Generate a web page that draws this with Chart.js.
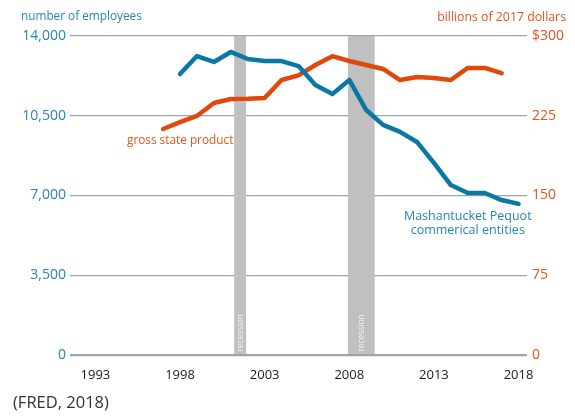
<!DOCTYPE html>
<html>
<head>
<meta charset="utf-8">
<script src="https://cdn.jsdelivr.net/npm/chart.js@4"></script>
<style>
  html, body { margin: 0; padding: 0; background: #fff; }
  #wrap { position: relative; width: 575px; height: 416px; font-family: "Open Sans", sans-serif; }
  canvas { position: absolute; left: 0; top: 0; }
  .lbl { position: absolute; white-space: nowrap; line-height: 1; }
</style>
</head>
<body>
<div id="wrap">
  <canvas id="c" width="575" height="416"></canvas>
  <div class="lbl" style="left:21px; top:10px; font-size:11.8px; color:#2585b6;">number of employees</div>
  <div class="lbl" style="right:9px; top:11px; font-size:12.3px; color:#e4531b;">billions of 2017 dollars</div>
  <div class="lbl" style="left:13px; top:394px; font-size:16.5px; color:#333;">(FRED, 2018)</div>
</div>
<script>
const years = [1997,1998,1999,2000,2001,2002,2003,2004,2005,2006,2007,2008,2009,2010,2011,2012,2013,2014,2015,2016,2017,2018];
const employees = [null,12330,13120,12860,13300,12990,12900,12900,12680,11850,11450,12070,10750,10100,9790,9350,8430,7460,7110,7110,6800,6630];
const grossStateProduct = [212.5,219,224.8,237,240.8,241,241.7,258.6,263,272.7,281,276.5,272.7,269,258.6,261.5,260.5,258.6,270,270,265,null];
const xTicks = [1993,1998,2003,2008,2013,2018];
const leftTicks = [0,3500,7000,10500,14000];
const rightTicks = [0,75,150,225,300];
const recessionStart = [2001.2, 2007.92];
const recessionEnd = [2001.9, 2009.5];

const BLUE = '#0b77a5';
const ORANGE = '#e0480c';
const BLUE_TXT = '#2585b6';
const ORANGE_TXT = '#e4531b';
const GRID = '#9ca6a9';

const recessionPlugin = {
  id: 'recession',
  beforeDatasetsDraw(chart) {
    const {ctx, chartArea, scales} = chart;
    ctx.save();
    for (let i = 0; i < recessionStart.length; i++) {
      const x0 = scales.x.getPixelForValue(recessionStart[i]);
      const x1 = scales.x.getPixelForValue(recessionEnd[i]);
      ctx.fillStyle = '#c0c0c0';
      ctx.fillRect(x0, chartArea.top, x1 - x0, chartArea.bottom - chartArea.top - 1);
      ctx.save();
      ctx.translate((x0 + x1) / 2, chartArea.bottom - 22);
      ctx.rotate(-Math.PI / 2);
      ctx.fillStyle = '#f2f2f2';
      ctx.font = '8.5px "Open Sans", sans-serif';
      ctx.textAlign = 'center';
      ctx.textBaseline = 'middle';
      ctx.fillText('recession', 0, 0);
      ctx.restore();
    }
    ctx.restore();
  },
  afterDatasetsDraw(chart) {
    const {ctx, scales} = chart;
    ctx.save();
    ctx.font = '11.8px "Open Sans", sans-serif';
    ctx.textBaseline = 'middle';
    ctx.fillStyle = ORANGE_TXT;
    ctx.textAlign = 'right';
    ctx.fillText('gross state product', scales.x.getPixelForValue(2001.15), scales.y1.getPixelForValue(202));
    ctx.font = '12.5px "Open Sans", sans-serif';
    ctx.fillStyle = BLUE_TXT;
    ctx.textAlign = 'center';
    const cx = scales.x.getPixelForValue(2015.0);
    ctx.fillText('Mashantucket Pequot', cx, scales.y.getPixelForValue(6080));
    ctx.fillText('commerical entities', cx, scales.y.getPixelForValue(5470));
    ctx.restore();
  }
};

new Chart(document.getElementById('c'), {
  type: 'line',
  data: {
    datasets: [
      {
        label: 'Mashantucket Pequot commerical entities',
        data: years.map((y, i) => ({x: y, y: employees[i]})),
        yAxisID: 'y',
        borderColor: BLUE,
        borderWidth: 4.5,
        pointRadius: 0,
        tension: 0,
        borderJoinStyle: 'round',
        borderCapStyle: 'round',
        fill: false
      },
      {
        label: 'gross state product',
        data: years.map((y, i) => ({x: y, y: grossStateProduct[i]})),
        yAxisID: 'y1',
        borderColor: ORANGE,
        borderWidth: 4.5,
        pointRadius: 0,
        tension: 0,
        borderJoinStyle: 'round',
        borderCapStyle: 'round',
        fill: false
      }
    ]
  },
  options: {
    responsive: false,
    animation: false,
    devicePixelRatio: 1,
    layout: { padding: { top: 36, left: 0, right: 0, bottom: 0 } },
    plugins: { legend: { display: false }, tooltip: { enabled: false } },
    scales: {
      x: {
        type: 'linear',
        min: 1991.5,
        max: 2018.5,
        afterBuildTicks(scale) { scale.ticks = xTicks.map(v => ({value: v})); },
        afterFit(scale) { scale.height = 61; },
        grid: { display: false, drawTicks: false },
        border: { display: false },
        ticks: {
          padding: 12,
          color: '#1a1a1a',
          font: { family: '"Open Sans", sans-serif', size: 13 },
          callback: v => String(v)
        }
      },
      y: {
        position: 'left',
        min: 0,
        max: 14000,
        afterBuildTicks(scale) { scale.ticks = leftTicks.map(v => ({value: v})); },
        afterFit(scale) { scale.width = 70; },
        grid: {
          color: GRID,
          lineWidth: ctx => ctx.tick && ctx.tick.value === 0 ? 2.2 : 1.3,
          drawTicks: false
        },
        border: { display: false },
        ticks: {
          padding: 4,
          color: BLUE_TXT,
          font: { family: '"Open Sans", sans-serif', size: 14 },
          callback: v => v.toLocaleString('en-US')
        }
      },
      y1: {
        position: 'right',
        min: 0,
        max: 300,
        afterBuildTicks(scale) { scale.ticks = rightTicks.map(v => ({value: v})); },
        afterFit(scale) { scale.width = 48; },
        grid: { display: false, drawTicks: false },
        border: { display: false },
        ticks: {
          padding: 5,
          color: ORANGE_TXT,
          font: { family: '"Open Sans", sans-serif', size: 14 },
          callback: v => (v === 300 ? '$300' : String(v))
        }
      }
    }
  },
  plugins: [recessionPlugin]
});
</script>
</body>
</html>
